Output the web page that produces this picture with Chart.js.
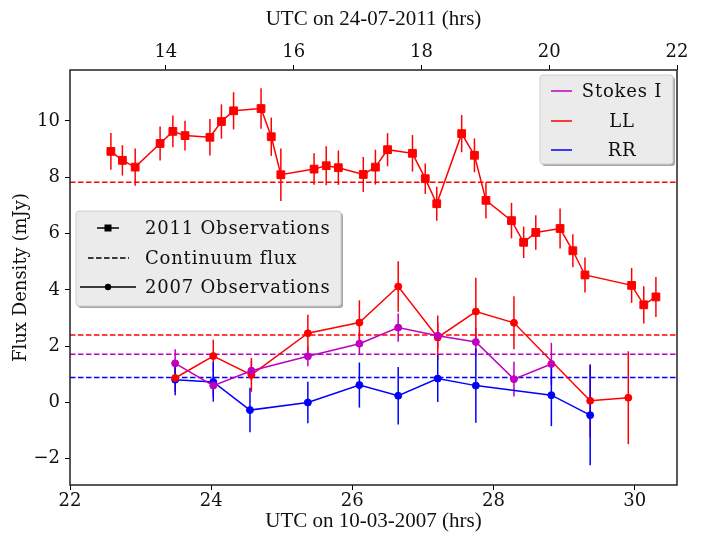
<!DOCTYPE html>
<html>
<head>
<meta charset="utf-8">
<script src="https://cdn.jsdelivr.net/npm/chart.js@4.4.1/dist/chart.umd.min.js"></script>
<style>
  html, body { margin: 0; padding: 0; background: #fff; }
  #wrap { width: 702px; height: 534px; }
</style>
</head>
<body>
<div id="wrap"><canvas id="chart" width="702" height="534"></canvas></div>
<script>
// 2011 observations, LL, hours UTC on 24-07-2011 (top axis)
const hours2011 = [13.14, 13.32, 13.52, 13.91, 14.11, 14.30, 14.69, 14.87, 15.06, 15.49,
  15.65, 15.80, 16.32, 16.51, 16.70, 17.09, 17.28, 17.47, 17.86, 18.06,
  18.24, 18.63, 18.83, 19.01, 19.41, 19.60, 19.79, 20.17, 20.37, 20.56,
  21.29, 21.48, 21.67];
const ll2011 = [8.92, 8.60, 8.36, 9.20, 9.63, 9.48, 9.42, 9.98, 10.36, 10.44,
  9.44, 8.09, 8.29, 8.41, 8.34, 8.10, 8.36, 8.98, 8.85, 7.95,
  7.06, 9.55, 8.78, 7.18, 6.46, 5.69, 6.04, 6.18, 5.39, 4.53,
  4.16, 3.47, 3.75];
const ll2011Err = [0.65, 0.54, 0.66, 0.60, 0.56, 0.53, 0.65, 0.61, 0.66, 0.72,
  0.68, 0.93, 0.56, 0.69, 0.61, 0.62, 0.62, 0.59, 0.65, 0.54,
  0.60, 0.66, 0.60, 0.64, 0.63, 0.56, 0.61, 0.71, 0.59, 0.62,
  0.62, 0.66, 0.71];

// 2007 observations, hours UTC on 10-03-2007 (bottom axis)
const hours2007LL = [23.49, 24.03, 24.57, 25.37, 26.10, 26.65, 27.21, 27.75, 28.29, 29.37, 29.91];
const ll2007 = [0.87, 1.65, 0.98, 2.46, 2.84, 4.12, 2.31, 3.23, 2.83, 0.06, 0.17];
const ll2007Err = [0.5, 0.58, 0.6, 0.66, 0.79, 0.9, 0.78, 1.2, 0.94, 1.3, 1.65];

const hours2007I = [23.49, 24.03, 24.57, 25.37, 26.10, 26.65, 27.21, 27.75, 28.29, 28.82];
const stokesI2007 = [1.39, 0.60, 1.13, 1.64, 2.09, 2.66, 2.37, 2.15, 0.83, 1.37];
const stokesI2007Err = [0.5, 0.4, 0.35, 0.35, 0.4, 0.5, 0.45, 0.5, 0.62, 0.75];

const hours2007RR = [23.49, 24.03, 24.55, 25.37, 26.10, 26.65, 27.21, 27.75, 28.82, 29.37];
const rr2007 = [0.81, 0.73, -0.27, 0.00, 0.62, 0.24, 0.85, 0.60, 0.26, -0.45];
const rr2007Err = [0.55, 0.7, 0.79, 0.74, 0.8, 1.02, 0.83, 1.32, 1.1, 1.78];

// continuum flux levels (mJy)
const contLL2011 = 7.82;
const contLL2007 = 2.40;
const contI2007 = 1.71;
const contRR2007 = 0.89;

const X2007_MIN = 22, X2007_MAX = 30.6;
const X2011_MIN = 12.5, X2011_MAX = 22;
const Y_MIN = -2.93, Y_MAX = 11.81;

const RED = '#ff0000';
const MAGENTA = '#bf00bf';
const BLUE = '#0000ff';
const TICK_FONT = { family: 'DejaVu Serif', size: 18 };

function pts(xs, ys) {
  return xs.map((x, i) => ({ x: x, y: ys[i] }));
}

function contLine(level, color) {
  return {
    data: [{ x: X2007_MIN, y: level }, { x: X2007_MAX, y: level }],
    xAxisID: 'x',
    borderColor: color,
    borderWidth: 1.5,
    borderDash: [5.5, 2.5],
    pointRadius: 0,
    showLine: true,
    order: 5,
  };
}

function obsLine(xs, ys, errs, color, axis, style, radius) {
  return {
    data: pts(xs, ys),
    errors: errs,
    xAxisID: axis,
    borderColor: color,
    backgroundColor: color,
    borderWidth: 1.5,
    pointStyle: style,
    pointRadius: radius,
    pointBorderWidth: 1,
    pointBorderColor: color,
    pointBackgroundColor: color,
    showLine: true,
    order: 1,
  };
}

// vertical error bars, drawn through the dataset's own scales
const errorBars = {
  id: 'errorBars',
  beforeDatasetsDraw(chart) {
    const ctx = chart.ctx;
    const yScale = chart.scales.y;
    ctx.save();
    chart.data.datasets.forEach((ds, di) => {
      if (!ds.errors) return;
      const meta = chart.getDatasetMeta(di);
      ctx.strokeStyle = ds.borderColor;
      ctx.lineWidth = 1.5;
      ds.data.forEach((p, i) => {
        const px = meta.data[i].x;
        ctx.beginPath();
        ctx.moveTo(px, yScale.getPixelForValue(p.y - ds.errors[i]));
        ctx.lineTo(px, yScale.getPixelForValue(p.y + ds.errors[i]));
        ctx.stroke();
      });
    });
    ctx.restore();
  },
};

function legendBox(ctx, x, y, w, h) {
  ctx.save();
  ctx.fillStyle = 'rgba(0,0,0,0.35)';
  ctx.beginPath();
  ctx.roundRect(x + 2, y + 2, w, h, 3);
  ctx.fill();
  ctx.fillStyle = '#ebebeb';
  ctx.strokeStyle = '#cfcfcf';
  ctx.lineWidth = 1;
  ctx.beginPath();
  ctx.roundRect(x, y, w, h, 3);
  ctx.fill();
  ctx.stroke();
  ctx.restore();
}

const frameAndLegends = {
  id: 'frameAndLegends',
  afterDraw(chart) {
    const ctx = chart.ctx;
    const a = chart.chartArea;
    ctx.save();
    ctx.strokeStyle = '#222';
    ctx.lineWidth = 1.5;
    ctx.strokeRect(a.left, a.top, a.right - a.left, a.bottom - a.top);

    ctx.font = '18px "DejaVu Serif"';
    ctx.textBaseline = 'middle';
    if ('letterSpacing' in ctx) ctx.letterSpacing = '0.8px';

    // polarisation legend (top right)
    legendBox(ctx, 540, 75, 133, 89);
    const polRows = [['Stokes I', MAGENTA, 91], ['LL', RED, 121], ['RR', BLUE, 150]];
    polRows.forEach(([label, color, ry]) => {
      ctx.strokeStyle = color;
      ctx.lineWidth = 1.5;
      ctx.beginPath();
      ctx.moveTo(551, ry);
      ctx.lineTo(572, ry);
      ctx.stroke();
      ctx.fillStyle = '#111';
      ctx.textAlign = 'center';
      ctx.fillText(label, 622, ry + 1);
    });

    // epoch legend (left)
    legendBox(ctx, 76, 211, 265, 95);
    ctx.strokeStyle = '#000';
    ctx.fillStyle = '#000';
    ctx.lineWidth = 1.5;
    // 2011: line with square
    ctx.beginPath();
    ctx.moveTo(97, 228); ctx.lineTo(119, 228); ctx.stroke();
    ctx.fillRect(104.5, 224.5, 7, 7);
    // continuum: dashed
    ctx.setLineDash([5.5, 2.5]);
    ctx.beginPath();
    ctx.moveTo(88, 258); ctx.lineTo(129, 258); ctx.stroke();
    ctx.setLineDash([]);
    // 2007: line with dot
    ctx.beginPath();
    ctx.moveTo(80, 287); ctx.lineTo(136, 287); ctx.stroke();
    ctx.beginPath();
    ctx.arc(108, 287, 3.2, 0, Math.PI * 2);
    ctx.fill();
    ctx.fillStyle = '#111';
    ctx.textAlign = 'left';
    ctx.fillText('2011 Observations', 145, 229);
    ctx.fillText('Continuum flux', 145, 259);
    ctx.fillText('2007 Observations', 145, 288);
    ctx.restore();
  },
};

function evenTicks(scale) {
  scale.ticks = scale.ticks.filter(t => Math.abs(t.value / 2 - Math.round(t.value / 2)) < 1e-6);
}

function minus(v) {
  return String(v).replace('-', '\u2212');
}

const axisGrid = { drawOnChartArea: false, drawTicks: true, tickLength: 5, color: '#000', lineWidth: 1 };

new Chart(document.getElementById('chart'), {
  type: 'scatter',
  data: {
    datasets: [
      contLine(contLL2011, RED),
      contLine(contLL2007, RED),
      contLine(contI2007, MAGENTA),
      contLine(contRR2007, BLUE),
      obsLine(hours2011, ll2011, ll2011Err, RED, 'x2', 'rect', 5.5),
      obsLine(hours2007I, stokesI2007, stokesI2007Err, MAGENTA, 'x', 'circle', 3.5),
      obsLine(hours2007LL, ll2007, ll2007Err, RED, 'x', 'circle', 3.5),
      obsLine(hours2007RR, rr2007, rr2007Err, BLUE, 'x', 'circle', 3.5),
    ],
  },
  options: {
    responsive: false,
    animation: false,
    layout: { padding: { left: 0, right: 25, top: 0, bottom: 0 } },
    plugins: {
      legend: { display: false },
      tooltip: { enabled: false },
    },
    scales: {
      x: {
        type: 'linear',
        position: 'bottom',
        min: X2007_MIN,
        max: X2007_MAX,
        afterBuildTicks: evenTicks,
        afterFit(scale) { scale.height = 49; },
        ticks: { stepSize: 2, includeBounds: false, color: '#111', font: TICK_FONT, padding: 1, maxRotation: 0 },
        grid: axisGrid,
        border: { display: false },
        title: {
          display: true,
          text: 'UTC on 10-03-2007 (hrs)',
          color: '#111',
          font: { family: 'Liberation Serif', size: 21 },
          padding: { top: 0, bottom: 0 },
        },
      },
      x2: {
        type: 'linear',
        position: 'top',
        min: X2011_MIN,
        max: X2011_MAX,
        afterBuildTicks: evenTicks,
        afterFit(scale) { scale.height = 70; },
        ticks: { stepSize: 2, includeBounds: false, color: '#111', font: TICK_FONT, padding: 2, maxRotation: 0 },
        grid: axisGrid,
        border: { display: false },
        title: {
          display: true,
          text: 'UTC on 24-07-2011 (hrs)',
          color: '#111',
          font: { family: 'Liberation Serif', size: 21 },
          padding: { top: 7, bottom: 0 },
        },
      },
      y: {
        type: 'linear',
        min: Y_MIN,
        max: Y_MAX,
        afterBuildTicks: evenTicks,
        afterFit(scale) { scale.width = 70; },
        ticks: { stepSize: 2, includeBounds: false, color: '#111', font: TICK_FONT, padding: 5, callback: minus },
        grid: axisGrid,
        border: { display: false },
        title: {
          display: true,
          text: 'Flux Density (mJy)',
          color: '#111',
          font: { family: 'DejaVu Serif', size: 18 },
          padding: { top: 11, bottom: 0 },
        },
      },
    },
  },
  plugins: [errorBars, frameAndLegends],
});
</script>
</body>
</html>
